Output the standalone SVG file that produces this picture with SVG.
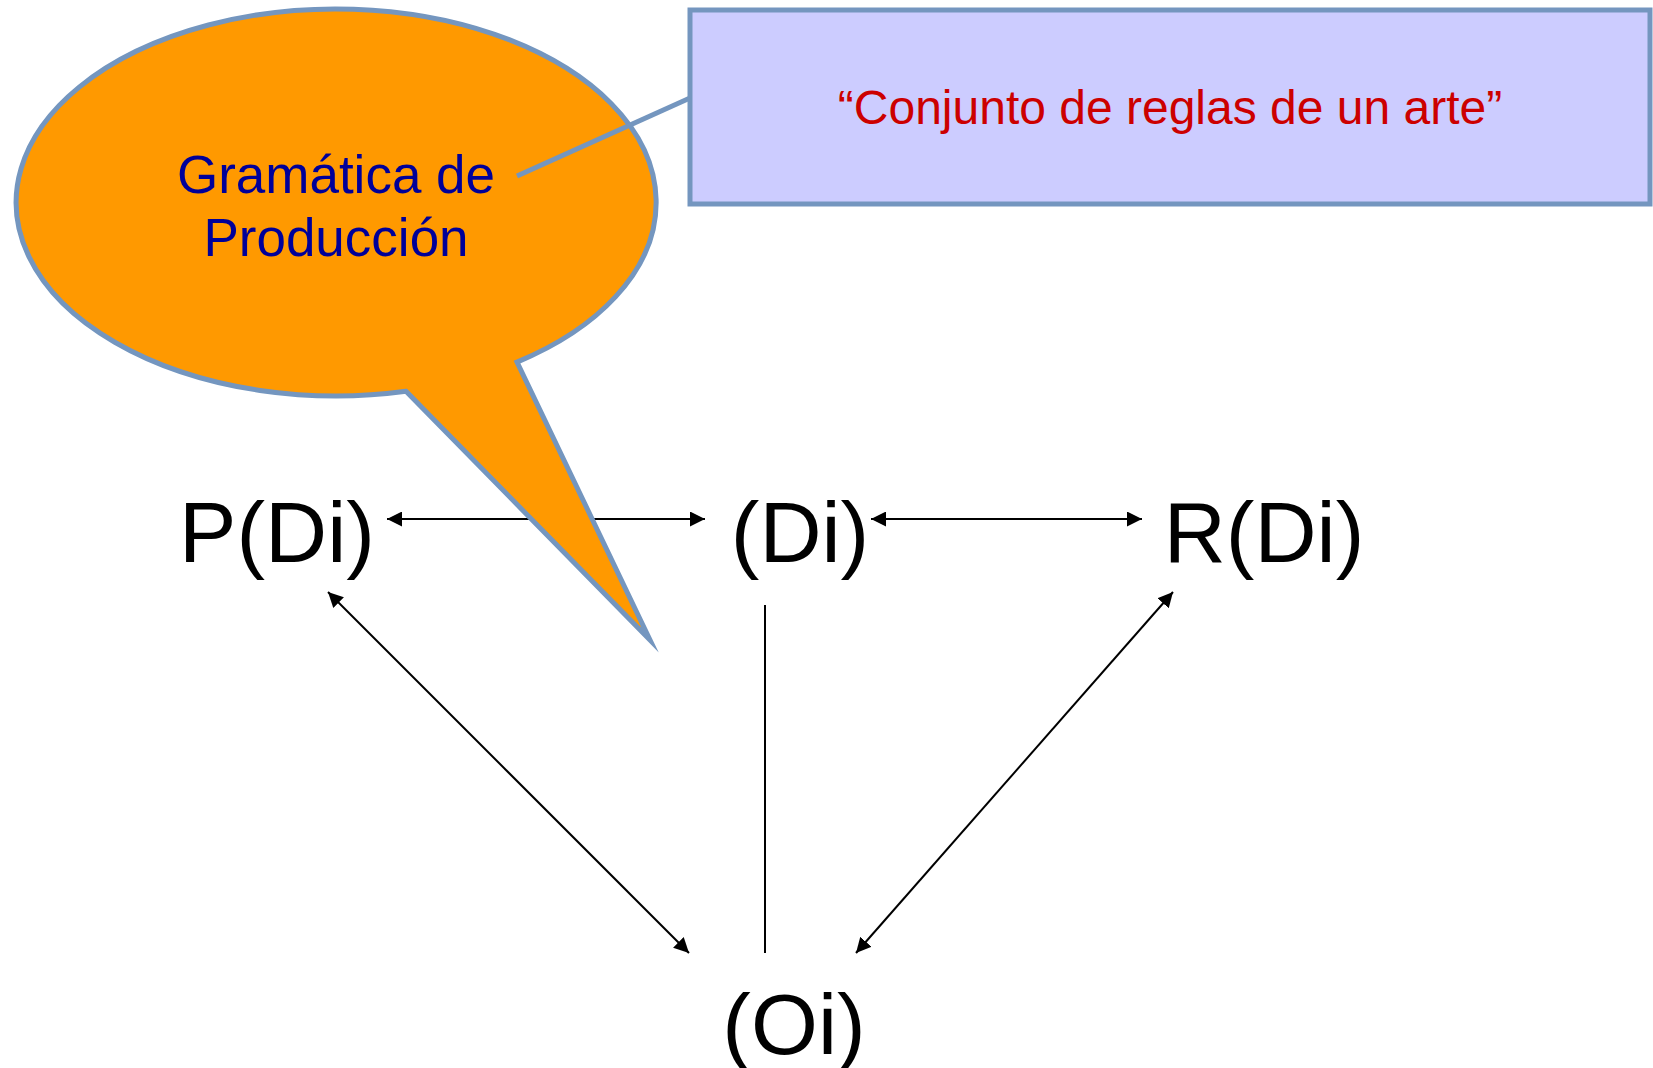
<svg xmlns="http://www.w3.org/2000/svg" width="1653" height="1068" viewBox="0 0 1653 1068">
<defs>
<style>
.node{font-family:"Liberation Sans",Arial,sans-serif;font-size:86px;fill:#000;text-anchor:middle}
.conn{stroke:#000;stroke-width:2;fill:none}
.outline{stroke:#7496BF;stroke-width:5}
</style>
<marker id="ah2" viewBox="0 0 10 10" refX="10" refY="5" markerWidth="15" markerHeight="15" markerUnits="userSpaceOnUse" orient="auto-start-reverse">
<path d="M0,0 L10,5 L0,10 Z" fill="#000"/>
</marker>
</defs>
<rect width="1653" height="1068" fill="#fff"/>
<g id="connectors">
<line class="conn" x1="387" y1="519" x2="705" y2="519" marker-start="url(#ah2)" marker-end="url(#ah2)"/>
<line class="conn" x1="871" y1="519" x2="1142" y2="519" marker-start="url(#ah2)" marker-end="url(#ah2)"/>
<line class="conn" x1="328" y1="592" x2="689" y2="953" marker-start="url(#ah2)" marker-end="url(#ah2)"/>
<line class="conn" x1="1173" y1="592" x2="856" y2="953" marker-start="url(#ah2)" marker-end="url(#ah2)"/>
<line class="conn" x1="765" y1="605" x2="765" y2="953"/>
</g>
<g id="node-pdi"><text class="node" x="277" y="562">P(Di)</text></g>
<g id="node-di"><text class="node" x="800" y="562">(Di)</text></g>
<g id="node-rdi"><text class="node" x="1264" y="562">R(Di)</text></g>
<g id="node-oi"><text class="node" x="794" y="1054">(Oi)</text></g>
<g id="callout-gramatica">
<path class="outline" d="M406,391.3 L650,640 L517,362.1 A320,193.5 0 1 0 406,391.3 Z" fill="#FF9900" stroke-miterlimit="10" stroke-linejoin="miter"/>
<text x="336" y="193" font-family="'Liberation Sans',Arial,sans-serif" font-size="53" fill="#000099" text-anchor="middle">Gramática de</text>
<text x="336" y="256" font-family="'Liberation Sans',Arial,sans-serif" font-size="53" fill="#000099" text-anchor="middle">Producción</text>
</g>
<g id="callout-definicion">
<rect class="outline" x="690" y="10" width="960" height="194" fill="#CCCCFF" stroke-width="4.5"/>
<line class="outline" x1="517" y1="176" x2="690" y2="98" fill="none"/>
<text x="1170" y="124" font-family="'Liberation Sans',Arial,sans-serif" font-size="48" fill="#CC0000" text-anchor="middle">“Conjunto de reglas de un arte”</text>
</g>
</svg>
